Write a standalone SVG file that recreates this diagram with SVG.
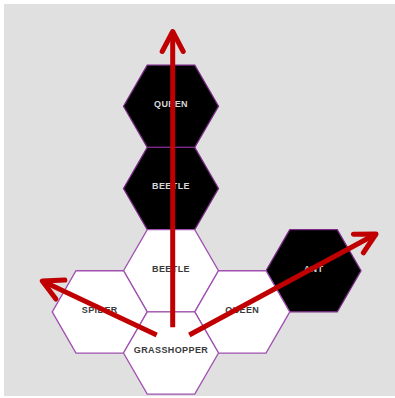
<svg xmlns="http://www.w3.org/2000/svg" xmlns:xlink="http://www.w3.org/1999/xlink" width="395" height="398" viewBox="0 0 395 398">
  <style>
    .hex { stroke: #a050b0; stroke-width: 1.3; }
    .dark { fill: #000000; stroke: #7a2a86; }
    .light { fill: #ffffff; }
    .lbl { font-family: "Liberation Sans", Arial, sans-serif; font-size: 9px; font-weight: bold; letter-spacing: 0.4px; text-anchor: middle; }
    .lbl-dark { fill: #d8d8d8; }
    .lbl-light { fill: #3a3a3a; }
    .arrow { fill: none; stroke: #c00000; stroke-width: 5; }
  </style>
  <defs>
    <polygon id="hexshape" points="-47.5,0 -23.75,-41.14 23.75,-41.14 47.5,0 23.75,41.14 -23.75,41.14"/>
    <marker id="chev" markerUnits="userSpaceOnUse" viewBox="-30 -20 40 40" markerWidth="40" markerHeight="40" refX="0" refY="0" orient="auto" overflow="visible">
      <path d="M -20 -10.5 L 0 0 L -20 10.5" fill="none" stroke="#c00000" stroke-width="5" stroke-linecap="round" stroke-linejoin="round"/>
    </marker>
  </defs>
  <rect x="0" y="0" width="395" height="398" fill="#ffffff"/>
  <rect x="4" y="4" width="391" height="392" fill="#e0e0e0"/>

  <g id="queen-black" transform="translate(171,106.2)">
    <use xlink:href="#hexshape" class="hex dark"/>
    <text class="lbl lbl-dark" x="0" y="0.8">QUEEN</text>
  </g>
  <g id="beetle-black" transform="translate(171,188.5)">
    <use xlink:href="#hexshape" class="hex dark"/>
    <text class="lbl lbl-dark" x="0" y="0.8">BEETLE</text>
  </g>
  <g id="ant-black" transform="translate(313.5,270.7)">
    <use xlink:href="#hexshape" class="hex dark"/>
    <text class="lbl lbl-dark" x="0" y="0.8">ANT</text>
  </g>
  <g id="beetle-white" transform="translate(171,270.7)">
    <use xlink:href="#hexshape" class="hex light"/>
    <text class="lbl lbl-light" x="0" y="0.8">BEETLE</text>
  </g>
  <g id="spider-white" transform="translate(99.75,311.9)">
    <use xlink:href="#hexshape" class="hex light"/>
    <text class="lbl lbl-light" x="0" y="0.6">SPIDER</text>
  </g>
  <g id="queen-white" transform="translate(242.25,311.9)">
    <use xlink:href="#hexshape" class="hex light"/>
    <text class="lbl lbl-light" x="0" y="0.6">QUEEN</text>
  </g>
  <g id="grasshopper-white" transform="translate(171,353)">
    <use xlink:href="#hexshape" class="hex light"/>
    <text class="lbl lbl-light" x="0" y="0.4">GRASSHOPPER</text>
  </g>

  <g id="connectors">
    <line class="arrow" x1="172.7" y1="327.3" x2="172.7" y2="31.5" marker-end="url(#chev)"/>
    <line class="arrow" x1="156.7" y1="335" x2="42.3" y2="281" marker-end="url(#chev)"/>
    <line class="arrow" x1="189.3" y1="335" x2="376" y2="234" marker-end="url(#chev)"/>
  </g>
</svg>
